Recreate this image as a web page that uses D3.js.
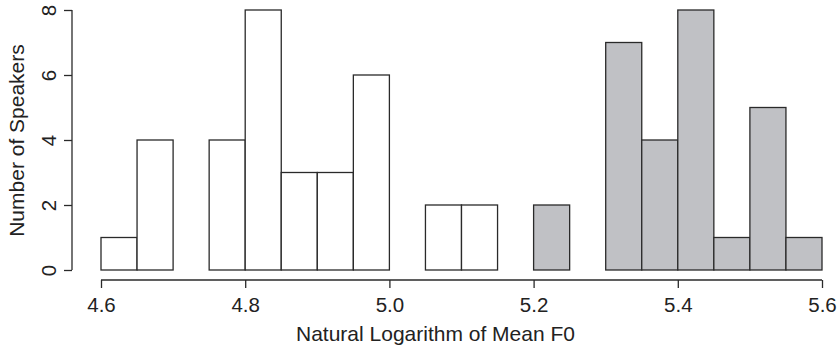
<!DOCTYPE html>
<html><head><meta charset="utf-8">
<script src="https://cdn.jsdelivr.net/npm/d3@7"></script>
<style>body{margin:0;background:#fff}svg{display:block}text{font-family:"Liberation Sans",Arial,sans-serif;fill:#222}</style>
</head><body>
<svg id="c" width="837" height="352"></svg>
<script>
// bin start values (width 0.05) and counts
const lowStarts = [4.60,4.65,4.70,4.75,4.80,4.85,4.90,4.95,5.00,5.05,5.10];
const lowCounts = [1,4,0,4,8,3,3,6,0,2,2];
const highStarts = [5.20,5.25,5.30,5.35,5.40,5.45,5.50,5.55];
const highCounts = [2,0,7,4,8,1,5,1];
const binWidth = 0.05;
const xTicks = [4.6,4.8,5.0,5.2,5.4,5.6];
const yTicks = [0,2,4,6,8];

const svg = d3.select("#c");
const x = d3.scaleLinear().domain([4.6,5.6]).range([101,822]);
const y = d3.scaleLinear().domain([0,8]).range([270,10]);
const stroke = "#2a2a2a";

function drawBars(starts, counts, fill){
  const data = starts.map((s,i)=>({s, c:counts[i]}));
  svg.append("g").selectAll("rect").data(data).join("rect")
    .attr("x", d=>x(d.s)).attr("width", d=>x(d.s+binWidth)-x(d.s))
    .attr("y", d=>y(d.c)).attr("height", d=>y(0)-y(d.c))
    .attr("fill", fill).attr("stroke", stroke).attr("stroke-width",1.3);
}
drawBars(lowStarts, lowCounts, "#ffffff");
drawBars(highStarts, highCounts, "#c0c1c5");

// x axis
const xa = svg.append("g").attr("transform","translate(0,280)")
  .call(d3.axisBottom(x).tickValues(xTicks).tickSize(8).tickPadding(4).tickFormat(d3.format(".1f")));
xa.select(".domain").attr("stroke",stroke).attr("stroke-width",1.3).attr("d",`M${x(4.6)},0H${x(5.6)}`);
xa.selectAll(".tick line").attr("stroke",stroke).attr("stroke-width",1.3);
xa.selectAll(".tick text").attr("font-size","20.5px").attr("font-family","Liberation Sans, Arial, sans-serif").attr("fill","#222").attr("dy",null).attr("y",32);

// y axis
const ya = svg.append("g").attr("transform","translate(72,0)")
  .call(d3.axisLeft(y).tickValues(yTicks).tickSize(8).tickFormat(d3.format("d")));
ya.select(".domain").attr("stroke",stroke).attr("stroke-width",1.3).attr("d",`M0,${y(0)}V${y(8)}`);
ya.selectAll(".tick line").attr("stroke",stroke).attr("stroke-width",1.3);
ya.selectAll(".tick text").attr("font-size","20.5px").attr("font-family","Liberation Sans, Arial, sans-serif").attr("fill","#222")
  .attr("x",null).attr("dy",null).attr("text-anchor","middle")
  .attr("transform","translate(-16,0) rotate(-90)");

// labels
svg.append("text").attr("x",435.5).attr("y",341).attr("text-anchor","middle").attr("font-size","21px").text("Natural Logarithm of Mean F0");
svg.append("text").attr("transform","translate(24,140.5) rotate(-90)").attr("text-anchor","middle").attr("font-size","21px").text("Number of Speakers");
</script>
</body></html>
